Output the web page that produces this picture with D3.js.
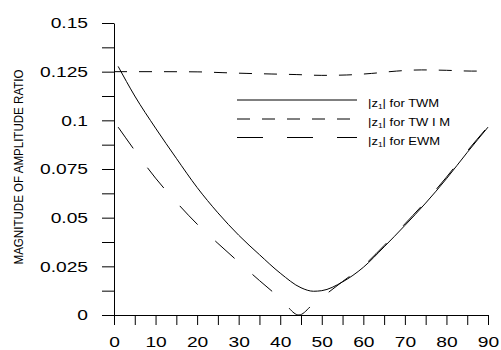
<!DOCTYPE html>
<html>
<head>
<meta charset="utf-8">
<script src="https://cdn.jsdelivr.net/npm/d3@7.9.0/dist/d3.min.js"></script>
<style>
  body { margin: 0; background: #fff; }
  svg { display: block; }
  text { font-family: Arial, "Liberation Sans", sans-serif; fill: #000; }
</style>
</head>
<body>
<div id="chart"></div>
<script>
// |z1| for TWM (solid)
const twmX = [1, 5, 10, 15, 20, 25, 30, 35, 40, 45, 48, 50, 55, 60, 65, 70, 75, 80, 85, 90];
const twmY = [0.1277, 0.1125, 0.096, 0.0805, 0.0655, 0.0525, 0.041, 0.031, 0.0215, 0.014,
              0.0122, 0.0125, 0.017, 0.0245, 0.035, 0.046, 0.0575, 0.070, 0.0835, 0.0965];

// |z1| for TW I M (short dash)
const twimX = [0, 10, 20, 26, 32, 38, 44, 50, 56, 62, 68, 74, 80, 86, 90];
const twimY = [0.125, 0.125, 0.1249, 0.1245, 0.1241, 0.1238, 0.1235, 0.1231, 0.1233,
               0.1241, 0.1253, 0.1259, 0.1257, 0.1253, 0.1253];

// |z1| for EWM (long dash)
const ewmX = [1, 5, 10, 15, 20, 25, 30, 35, 40, 44.5, 48, 50, 55, 60, 65, 70, 75, 80, 85, 90];
const ewmY = [0.0965, 0.0845, 0.0703, 0.058, 0.0467, 0.0368, 0.0272, 0.0177, 0.0086, 0.0,
              0.0058, 0.009, 0.0172, 0.0252, 0.0357, 0.0468, 0.0583, 0.0708, 0.0842, 0.0968];

const xTicks = [0, 10, 20, 30, 40, 50, 60, 70, 80, 90];
const yTicks = [0, 0.025, 0.05, 0.075, 0.1, 0.125, 0.15];
const yTickLabels = ["0", "0.025", "0.05", "0.075", "0.1", "0.125", "0.15"];
const legendNames = ["TWM", "TW I M", "EWM"];
const yTitle = "MAGNITUDE OF AMPLITUDE RATIO";

const width = 501;
const height = 350;
const area = { left: 114, right: 488, top: 23, bottom: 315 };

const svg = d3.select("#chart")
    .append("svg")
    .attr("width", width)
    .attr("height", height);

const xScale = d3.scaleLinear().domain([0, 90]).range([area.left, area.right]);
const yScale = d3.scaleLinear().domain([0, 0.15]).range([area.bottom, area.top]);

// stretch text sideways like the original export
function stretch(sel, k) {
    sel.each(function () {
        const w = this.getComputedTextLength();
        d3.select(this).attr("textLength", w * k).attr("lengthAdjust", "spacingAndGlyphs");
    });
}

/* axes */
const xAxis = svg.append("g")
    .attr("transform", `translate(0,${area.bottom})`)
    .call(d3.axisBottom(xScale)
        .tickValues(d3.range(0, 91, 5))
        .tickSize(10)
        .tickSizeOuter(0)
        .tickPadding(11)
        .tickFormat(d => xTicks.includes(d) ? d : ""));

const yAxis = svg.append("g")
    .attr("transform", `translate(${area.left},0)`)
    .call(d3.axisLeft(yScale)
        .tickValues(d3.range(0, 0.1501, 0.0125))
        .tickSize(12)
        .tickSizeOuter(0)
        .tickPadding(14)
        .tickFormat(d => {
            const i = yTicks.findIndex(t => Math.abs(t - d) < 1e-6);
            return i >= 0 ? yTickLabels[i] : "";
        }));

[xAxis, yAxis].forEach(g => {
    g.selectAll("path, line").attr("stroke", "#000").attr("stroke-width", 1);
    g.selectAll("text")
        .attr("font-family", "Arial, 'Liberation Sans', sans-serif")
        .attr("font-size", 15)
        .attr("fill", "#000")
        .call(stretch, 1.28);
});

/* y axis title */
svg.append("text")
    .attr("transform", `translate(23,167) rotate(-90)`)
    .attr("text-anchor", "middle")
    .attr("font-size", 13)
    .attr("textLength", 195)
    .attr("lengthAdjust", "spacingAndGlyphs")
    .text(yTitle);

/* series */
const series = [
    { xs: twmX, ys: twmY, dash: null },
    { xs: twimX, ys: twimY, dash: "13,12" },
    { xs: ewmX, ys: ewmY, dash: "26,24" }
];

const line = d3.line()
    .x(d => xScale(d[0]))
    .y(d => yScale(d[1]))
    .curve(d3.curveMonotoneX);

series.forEach(s => {
    svg.append("path")
        .datum(s.xs.map((x, i) => [x, s.ys[i]]))
        .attr("fill", "none")
        .attr("stroke", "#000")
        .attr("stroke-width", 1)
        .attr("stroke-dasharray", s.dash)
        .attr("d", line);
});

/* legend */
const legendY = [100, 119, 137.5];
series.forEach((s, i) => {
    svg.append("line")
        .attr("x1", 237).attr("x2", 357)
        .attr("y1", legendY[i]).attr("y2", legendY[i])
        .attr("stroke", "#000")
        .attr("stroke-width", 1)
        .attr("stroke-dasharray", s.dash);
    const t = svg.append("text")
        .attr("x", 368)
        .attr("y", legendY[i] + 7)
        .attr("font-size", 10);
    t.append("tspan").text("|z");
    t.append("tspan").attr("font-size", 6.5).attr("dy", 2).text("1");
    t.append("tspan").attr("dy", -2).text("| for " + legendNames[i]);
    stretch(t, 1.3);
});
</script>
</body>
</html>
